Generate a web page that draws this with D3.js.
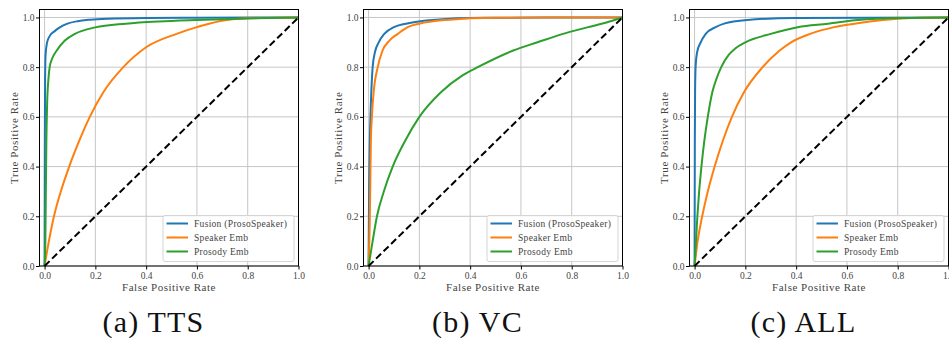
<!DOCTYPE html>
<html>
<head>
<meta charset="utf-8">
<script src="https://cdn.jsdelivr.net/npm/d3@7"></script>
<style>
  body { margin: 0; background: #fff; }
  svg { display: block; }
</style>
</head>
<body>
<div id="chart"></div>
<script>
// captions of the three sub-figures
var panelTitles = ["(a) TTS", "(b) VC", "(c) ALL"];
var seriesNames = ["Fusion (ProsoSpeaker)", "Speaker Emb", "Prosody Emb"];
var seriesColors = ["#1f77b4", "#ff7f0e", "#2ca02c"];
var xTicks = [0.0, 0.2, 0.4, 0.6, 0.8, 1.0];
var yTicks = [0.0, 0.2, 0.4, 0.6, 0.8, 1.0];

// ROC points [fpr, tpr]
var ttsFusion = [[0,0],[0.001,0.5],[0.002,0.75],[0.004,0.85],[0.01,0.9],[0.02,0.925],[0.04,0.945],[0.06,0.96],[0.09,0.975],[0.13,0.985],[0.18,0.991],[0.25,0.995],[0.4,0.998],[0.6,0.999],[1,1]];
var ttsSpeaker = [[0,0],[0.017,0.1],[0.037,0.2],[0.064,0.3],[0.097,0.4],[0.135,0.5],[0.178,0.6],[0.232,0.7],[0.31,0.8],[0.4,0.88],[0.52,0.934],[0.6,0.961],[0.717,0.99],[0.85,0.998],[1,1]];
var ttsProsody = [[0,0],[0.003,0.1],[0.005,0.3],[0.007,0.5],[0.01,0.65],[0.015,0.75],[0.02,0.8],[0.03,0.835],[0.048,0.867],[0.08,0.907],[0.12,0.934],[0.2,0.96],[0.32,0.975],[0.45,0.984],[0.6,0.99],[0.8,0.996],[1,1]];

var vcFusion = [[0,0],[0.002,0.3],[0.005,0.5],[0.009,0.65],[0.016,0.8],[0.025,0.86],[0.04,0.9],[0.062,0.934],[0.1,0.961],[0.147,0.975],[0.25,0.99],[0.45,0.999],[1,1]];
var vcSpeaker = [[0,0],[0.003,0.1],[0.005,0.2],[0.007,0.35],[0.009,0.5],[0.013,0.6],[0.02,0.7],[0.036,0.8],[0.055,0.867],[0.082,0.907],[0.115,0.934],[0.154,0.961],[0.2,0.975],[0.305,0.99],[0.5,0.999],[1,1]];
var vcProsody = [[0,0],[0.016,0.1],[0.033,0.2],[0.06,0.3],[0.095,0.4],[0.142,0.5],[0.2,0.6],[0.286,0.7],[0.37,0.767],[0.43,0.8],[0.57,0.867],[0.665,0.9],[0.766,0.934],[0.865,0.961],[0.937,0.98],[1,1]];

var allFusion = [[0,0],[0.001,0.5],[0.002,0.7],[0.004,0.8],[0.01,0.86],[0.024,0.9],[0.044,0.934],[0.083,0.961],[0.116,0.975],[0.208,0.99],[0.4,0.998],[1,1]];
var allSpeaker = [[0,0],[0.012,0.1],[0.03,0.2],[0.052,0.3],[0.079,0.4],[0.11,0.5],[0.147,0.6],[0.195,0.7],[0.268,0.8],[0.335,0.867],[0.38,0.9],[0.455,0.934],[0.55,0.961],[0.63,0.975],[0.74,0.99],[0.9,0.999],[1,1]];
var allProsody = [[0,0],[0.011,0.2],[0.018,0.3],[0.027,0.4],[0.038,0.5],[0.052,0.6],[0.07,0.7],[0.085,0.75],[0.105,0.8],[0.135,0.85],[0.16,0.875],[0.2,0.9],[0.3,0.934],[0.406,0.961],[0.525,0.975],[0.644,0.99],[0.85,0.998],[1,1]];

var chance = [[0,0],[1,1]];

var panelData = [
  [ttsFusion, ttsSpeaker, ttsProsody],
  [vcFusion, vcSpeaker, vcProsody],
  [allFusion, allSpeaker, allProsody]
];

var width = 949, height = 342;
var panelLeft = [39.5, 363.5, 689.5];
var marginTop = 9.5;
var pw = 259, ph = 256.5;
var serif = '"Liberation Serif", Tinos, "Times New Roman", Times, "DejaVu Serif", "Noto Serif", FreeSerif, serif';
var textGrey = "#444";

var svg = d3.select("#chart").append("svg")
  .attr("width", width)
  .attr("height", height)
  .attr("font-family", serif)
  .style("font-family", serif);

var xscale = d3.scaleLinear().domain([-0.02, 1.0]).range([0, pw]);
var yscale = d3.scaleLinear().domain([0, 1.032]).range([ph, 0]);

var line = d3.line()
  .x(d => xscale(d[0]))
  .y(d => yscale(d[1]))
  .curve(d3.curveMonotoneX);

panelData.forEach(function(series, p) {
  var g = svg.append("g").attr("transform", `translate(${panelLeft[p]},${marginTop})`);

  // grid
  g.append("g").selectAll("line").data(xTicks).join("line")
    .attr("x1", d => xscale(d)).attr("x2", d => xscale(d))
    .attr("y1", 0).attr("y2", ph)
    .attr("stroke", "#c6c6c6").attr("stroke-width", 1);
  g.append("g").selectAll("line").data(yTicks).join("line")
    .attr("x1", 0).attr("x2", pw)
    .attr("y1", d => yscale(d)).attr("y2", d => yscale(d))
    .attr("stroke", "#c6c6c6").attr("stroke-width", 1);

  // curves
  series.forEach(function(pts, i) {
    g.append("path")
      .datum(pts)
      .attr("d", line)
      .attr("fill", "none")
      .attr("stroke", seriesColors[i])
      .attr("stroke-width", 2)
      .attr("stroke-linejoin", "round");
  });

  g.append("path")
    .datum(chance)
    .attr("d", d3.line().x(d => xscale(d[0])).y(d => yscale(d[1])))
    .attr("fill", "none")
    .attr("stroke", "#000")
    .attr("stroke-width", 2)
    .attr("stroke-dasharray", "7,3.5");

  // frame
  g.append("rect")
    .attr("width", pw).attr("height", ph)
    .attr("fill", "none").attr("stroke", "#000").attr("stroke-width", 1);

  // axes
  var gx = g.append("g").attr("transform", `translate(0,${ph})`)
    .call(d3.axisBottom(xscale).tickValues(xTicks).tickFormat(d3.format(".1f")).tickSize(3.5).tickPadding(2.3));
  var gy = g.append("g")
    .call(d3.axisLeft(yscale).tickValues(yTicks).tickFormat(d3.format(".1f")).tickSize(3.5).tickPadding(1.5));
  [gx, gy].forEach(function(a) {
    a.attr("font-family", serif).attr("font-size", 9.5);
    a.select(".domain").remove();
    a.selectAll(".tick line").attr("stroke", "#000");
    a.selectAll(".tick text").attr("fill", textGrey);
  });

  // axis titles
  g.append("text")
    .attr("x", pw / 2).attr("y", ph + 24.5)
    .attr("text-anchor", "middle")
    .attr("fill", textGrey)
    .style("font-size", "11px")
    .style("letter-spacing", "0.5px")
    .text("False Positive Rate");

  g.append("text")
    .attr("transform", `translate(-21.5,${ph / 2}) rotate(-90)`)
    .attr("text-anchor", "middle")
    .attr("fill", textGrey)
    .style("font-size", "11px")
    .style("letter-spacing", "0.6px")
    .text("True Positive Rate");

  // legend
  var lw = 131, lh = 46;
  var leg = g.append("g").attr("transform", `translate(${pw - 4.5 - lw},${ph - 4.5 - lh})`);
  leg.append("rect")
    .attr("width", lw).attr("height", lh).attr("rx", 2)
    .attr("fill", "#fff").attr("fill-opacity", 0.85)
    .attr("stroke", "#d4d4d4").attr("stroke-width", 1);
  seriesNames.forEach(function(name, i) {
    var yy = 8 + i * 14;
    leg.append("line")
      .attr("x1", 3.5).attr("x2", 25).attr("y1", yy).attr("y2", yy)
      .attr("stroke", seriesColors[i]).attr("stroke-width", 2);
    leg.append("text")
      .attr("x", 31).attr("y", yy + 3.3)
      .attr("fill", textGrey)
      .style("font-size", "9.5px")
      .style("letter-spacing", "0.3px")
      .text(name);
  });

  // sub-figure caption
  svg.append("text")
    .attr("x", panelLeft[p] + 114).attr("y", 332)
    .attr("text-anchor", "middle")
    .attr("fill", "#111")
    .style("font-size", "30px")
    .style("letter-spacing", "1.2px")
    .text(panelTitles[p]);
});
</script>
</body>
</html>
